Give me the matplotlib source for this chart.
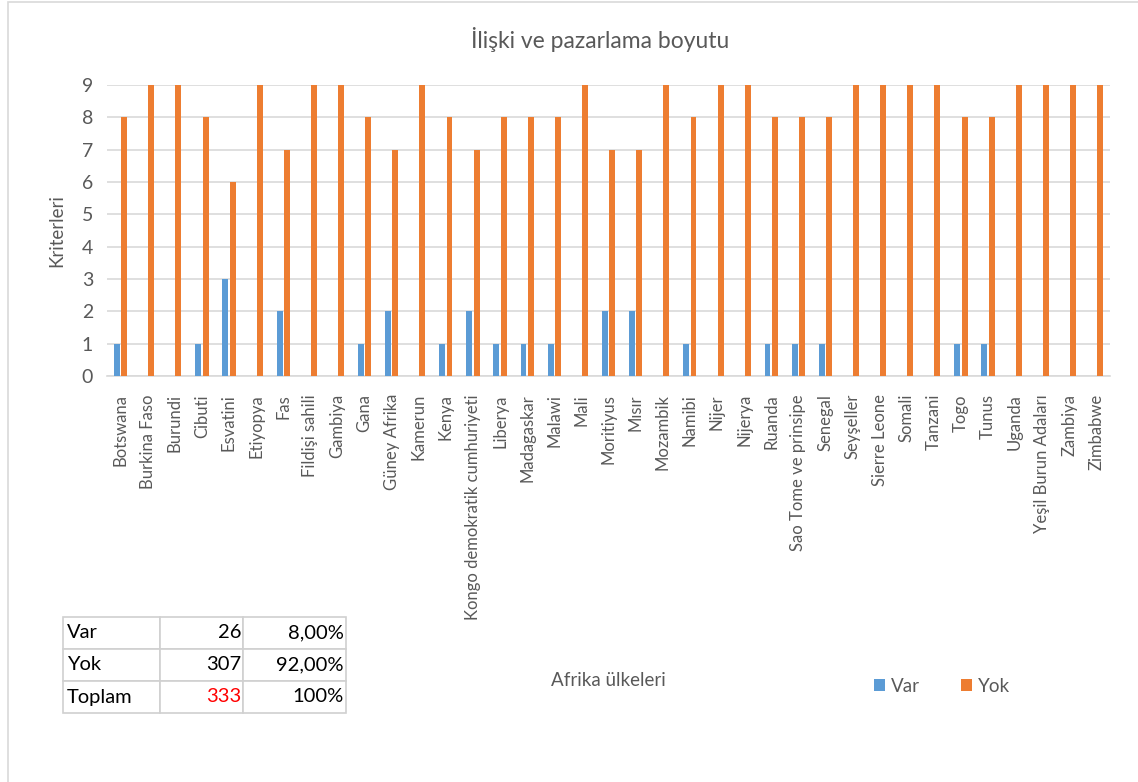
import numpy as np
import matplotlib
matplotlib.use("Agg")
import matplotlib.pyplot as plt
from matplotlib.patches import Rectangle

plt.rcParams['font.family'] = ['Lato', 'DejaVu Sans']

countries = ["Botswana", "Burkina Faso", "Burundi", "Cibuti", "Esvatini", "Etiyopya", "Fas",
             "Fildişi sahili", "Gambiya", "Gana", "Güney Afrika", "Kamerun", "Kenya",
             "Kongo demokratik cumhuriyeti", "Liberya", "Madagaskar", "Malawi", "Mali",
             "Moritiyus", "Mısır", "Mozambik", "Namibi", "Nijer", "Nijerya", "Ruanda",
             "Sao Tome ve prinsipe", "Senegal", "Seyşeller", "Sierre Leone", "Somali",
             "Tanzani", "Togo", "Tunus", "Uganda", "Yeşil Burun Adaları", "Zambiya", "Zimbabwe"]
var = [1, 0, 0, 1, 3, 0, 2, 0, 0, 1, 2, 0, 1, 2, 1, 1, 1, 0, 2, 2, 0, 1, 0, 0, 1, 1, 1,
       0, 0, 0, 0, 1, 1, 0, 0, 0, 0]
yok = [8, 9, 9, 8, 6, 9, 7, 9, 9, 8, 7, 9, 8, 7, 8, 8, 8, 9, 7, 7, 9, 8, 9, 9, 8, 8, 8,
       9, 9, 9, 9, 8, 8, 9, 9, 9, 9]

table_rows = ["Var", "Yok", "Toplam"]
table_counts = ["26", "307", "333"]
table_pcts = ["8,00%", "92,00%", "100%"]

blue = "#5b9bd5"
orange = "#ed7d31"
txt = "#595959"

W, H = 1138, 782
fig = plt.figure(figsize=(W / 100, H / 100), dpi=100)

# chart border
fig.patches.append(Rectangle((8 / W, -0.01), 1.02, 1.01 - 1.5 / H, transform=fig.transFigure,
                             fill=False, edgecolor="#d9d9d9", linewidth=1.2))

ax = fig.add_axes([107 / W, 1 - 376 / H, (1110 - 107) / W, (376 - 85) / H])
x = np.arange(len(countries))
bw = 0.22
ax.bar(x - 0.135, var, bw, color=blue, label="Var", zorder=3)
ax.bar(x + 0.135, yok, bw, color=orange, label="Yok", zorder=3)

ax.set_xlim(-0.5, len(countries) - 0.5)
ax.set_ylim(0, 9)
ax.set_yticks(range(10))
ax.yaxis.grid(True, color="#d9d9d9", linewidth=1.2, zorder=0)
ax.set_xticks(x)
ax.set_xticklabels(countries, rotation=90, color=txt)
ax.tick_params(axis="both", length=0, labelcolor=txt)
ax.tick_params(axis="x", pad=13, labelsize=12)
ax.tick_params(axis="y", pad=10, labelsize=14)
for s in ["top", "right", "left"]:
    ax.spines[s].set_visible(False)
ax.spines["bottom"].set_color("#d9d9d9")
ax.spines["bottom"].set_linewidth(1.2)

ax.set_ylabel("Kriterleri", fontsize=13.5, color=txt, labelpad=12)
fig.text(600 / W, 1 - 40 / H, "İlişki ve pazarlama boyutu", ha="center", va="center",
         fontsize=16.5, color=txt)
fig.text(608 / W, 1 - 680 / H, "Afrika ülkeleri", ha="center", va="center",
         fontsize=13.5, color=txt)

leg = fig.legend(loc="center", bbox_to_anchor=(942 / W, 1 - 686 / H), ncol=2, frameon=False,
                 fontsize=13.5, handlelength=0.6, handleheight=0.6, handletextpad=0.3,
                 columnspacing=2.2)
for t in leg.get_texts():
    t.set_color(txt)

# summary table
tax = fig.add_axes([63 / W, 1 - 713 / H, (346 - 63) / W, (713 - 617) / H])
tax.axis("off")
cells = [[r, c, p] for r, c, p in zip(table_rows, table_counts, table_pcts)]
tbl = tax.table(cellText=cells, bbox=[0, 0, 1, 1], colWidths=[97, 83, 103])
tbl.auto_set_font_size(False)
for (i, j), cell in tbl.get_celld().items():
    cell.set_edgecolor("#d0d0d0")
    cell.set_linewidth(1.2)
    cell.get_text().set_fontsize(14.5)
    cell.get_text().set_color("black")
    if j == 0:
        cell.get_text().set_ha("left")
        cell._loc = "left"
        cell.PAD = 0.04
    else:
        cell._loc = "right"
        cell.PAD = 0.02
tbl[2, 1].get_text().set_color("#ff0000")

fig.savefig("out.png", dpi=100)
